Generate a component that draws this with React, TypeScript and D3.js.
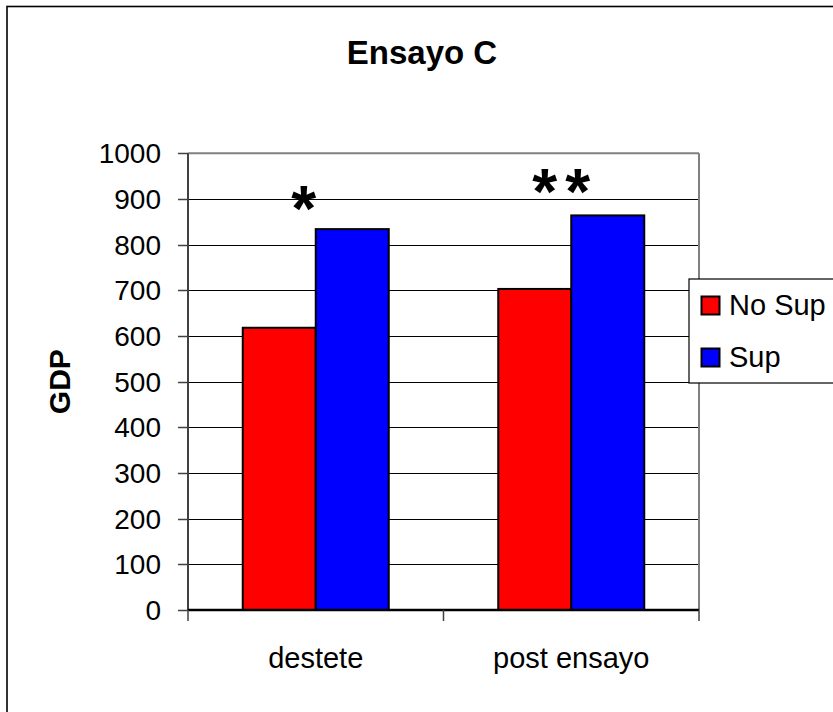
import React from "react";
import * as d3 from "d3";

const categories = ["destete", "post ensayo"];
const seriesNames = ["No Sup", "Sup"];
const seriesColors = ["#FF0000", "#0000FF"];
const noSupValues = [618, 703];
const supValues = [834, 864];
const yTicks = [0, 100, 200, 300, 400, 500, 600, 700, 800, 900, 1000];
const significance = ["*", "**"];
const titleText = "Ensayo C";
const yAxisTitle = "GDP";

const W = 833;
const H = 712;
const plot = { left: 188, right: 699, top: 153.3, bottom: 610 };
const FONT = "'Liberation Sans', Arial, Helvetica, sans-serif";

export default function App() {
  const values = [noSupValues, supValues];
  const y = d3.scaleLinear().domain([0, 1000]).range([plot.bottom, plot.top]);
  const x = d3.scaleBand<string>().domain(categories).range([plot.left, plot.right]).paddingInner(0).paddingOuter(0);
  const bw = x.bandwidth();
  const groupW = (bw / 3.5) * 2;
  const inner = d3.scaleBand<string>().domain(seriesNames).range([0, groupW]);
  const groupStart = (c: string) => (x(c) as number) + (bw - groupW) / 2;

  const catEdges = [plot.left, ...categories.map((c) => (x(c) as number) + bw)];

  return (
    <svg width={W} height={H} style={{ position: "absolute", left: 0, top: 0, background: "#fff" }} fontFamily={FONT}>
      <rect x={0} y={0} width={W} height={H} fill="#fff" />
      {/* chart area border */}
      <rect x={7} y={6.5} width={900} height={800} fill="none" stroke="#000" strokeWidth={1.6} />
      <text x={422} y={64} textAnchor="middle" fontWeight="bold" fontSize={33}>{titleText}</text>

      {/* gridlines */}
      {yTicks.map((t) => (
        <line key={"g" + t} x1={plot.left} x2={plot.right} y1={Math.round(y(t)) + 0.5} y2={Math.round(y(t)) + 0.5} stroke="#000" strokeWidth={1} />
      ))}
      {/* plot border top/right */}
      <line x1={plot.left} x2={plot.right} y1={plot.top} y2={plot.top} stroke="#808080" strokeWidth={2} />
      <line x1={plot.right} x2={plot.right} y1={plot.top} y2={plot.bottom} stroke="#808080" strokeWidth={2} />

      {/* bars */}
      {categories.map((c, ci) =>
        seriesNames.map((s, si) => {
          const v = values[si][ci];
          const bx = groupStart(c) + (inner(s) as number);
          return (
            <rect key={c + s} x={bx} y={y(v)} width={inner.bandwidth()} height={y(0) - y(v)} fill={seriesColors[si]} stroke="#000" strokeWidth={2} />
          );
        })
      )}

      {/* y axis */}
      <line x1={plot.left} x2={plot.left} y1={plot.top} y2={plot.bottom} stroke="#404040" strokeWidth={2} />
      {yTicks.map((t) => (
        <g key={"t" + t}>
          <line x1={plot.left - 10} x2={plot.left} y1={Math.round(y(t)) + 0.5} y2={Math.round(y(t)) + 0.5} stroke="#404040" strokeWidth={1.5} />
          <text x={161} y={y(t)} dy="0.36em" textAnchor="end" fontSize={28}>{t}</text>
        </g>
      ))}
      {/* x axis */}
      <line x1={plot.left} x2={plot.right} y1={plot.bottom} y2={plot.bottom} stroke="#000" strokeWidth={2.5} />
      {catEdges.map((e, i) => (
        <line key={"xt" + i} x1={e} x2={e} y1={plot.bottom} y2={plot.bottom + 11} stroke="#404040" strokeWidth={1.5} />
      ))}
      {categories.map((c) => (
        <text key={"xl" + c} x={(x(c) as number) + bw / 2} y={668} textAnchor="middle" fontSize={29}>{c}</text>
      ))}

      {/* significance marks */}
      {categories.map((c, ci) => (
        <text key={"s" + c} x={(x(c) as number) + bw / 2 - (ci === 0 ? 12 : 6)} y={ci === 0 ? 231 : 214} textAnchor="middle" fontWeight="bold" fontSize={64} letterSpacing={ci === 0 ? 0 : 8}>{significance[ci]}</text>
      ))}

      {/* y axis title */}
      <text transform={`translate(70,${(plot.top + plot.bottom) / 2}) rotate(-90)`} textAnchor="middle" fontWeight="bold" fontSize={30}>{yAxisTitle}</text>

      {/* legend */}
      <rect x={689} y={279} width={170} height={104} fill="#fff" stroke="#000" strokeWidth={1.2} />
      {seriesNames.map((s, i) => (
        <g key={"l" + s}>
          <rect x={701.5} y={296.5 + i * 52} width={18} height={18} fill={seriesColors[i]} stroke="#000" strokeWidth={2} />
          <text x={729} y={314.5 + i * 52} fontSize={29}>{s}</text>
        </g>
      ))}
    </svg>
  );
}
